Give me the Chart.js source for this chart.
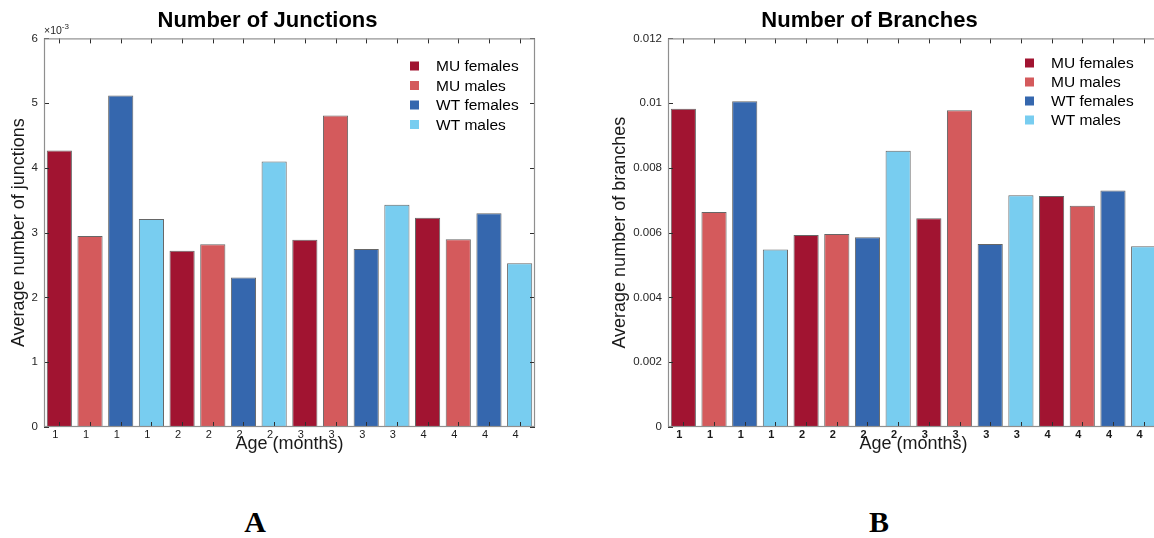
<!DOCTYPE html>
<html>
<head>
<meta charset="utf-8">
<script src="https://cdn.jsdelivr.net/npm/chart.js@4/dist/chart.umd.min.js"></script>
<style>
  html, body { margin: 0; padding: 0; background: #fff; width: 1154px; height: 538px; overflow: hidden; position: relative; }
  canvas { position: absolute; top: 0; }
  #c1 { left: 0; }
  #c2 { left: 580px; }
  .panel { position: absolute; top: 504px; font-family: "Liberation Serif", "Times New Roman", serif; font-weight: bold; font-size: 30px; color: #000; transform: translateX(-50%); line-height: 36px; }
</style>
</head>
<body>
<canvas id="c1" width="577" height="470"></canvas>
<canvas id="c2" width="590" height="470"></canvas>
<div class="panel" style="left:255px">A</div>
<div class="panel" style="left:879px">B</div>
<script>
// ---- data ----
const ageLabels = ['1','1','1','1','2','2','2','2','3','3','3','3','4','4','4','4'];
const groupNames = ['MU females', 'MU males', 'WT females', 'WT males'];
const groupColors = ['#A11431', '#D45A5C', '#3567AE', '#78CDF0'];
const barGroup = [0,1,2,3, 0,1,2,3, 0,1,2,3, 0,1,2,3];
const junctions = [0.00427, 0.00295, 0.00512, 0.00321, 0.00272, 0.00282, 0.00231, 0.00410,
                   0.00289, 0.00481, 0.00275, 0.00343, 0.00323, 0.00290, 0.00330, 0.00253];
const branches = [0.00983, 0.00664, 0.01006, 0.00548, 0.00593, 0.00596, 0.00586, 0.00853,
                  0.00645, 0.00978, 0.00565, 0.00716, 0.00713, 0.00683, 0.00730, 0.00558];
const junctionTicks = { min: 0, max: 0.006, step: 0.001 };
const branchTicks = { min: 0, max: 0.012, step: 0.002 };

const FONT = '"Liberation Sans", Arial, Helvetica, sans-serif';

const matlabPlugin = {
  id: 'matlabBox',
  afterDraw(chart, args, o) {
    const { ctx, chartArea: a, scales: { x, y } } = chart;
    ctx.save();
    // ticks (inward)
    ctx.strokeStyle = '#2e2e2e';
    ctx.lineWidth = 1;
    ctx.beginPath();
    x.ticks.forEach((t, i) => {
      const px = Math.round(x.getPixelForTick(i)) + 0.5;
      ctx.moveTo(px, a.bottom); ctx.lineTo(px, a.bottom - 5);
      ctx.moveTo(px, a.top); ctx.lineTo(px, a.top + 5);
    });
    y.ticks.forEach(t => {
      const py = Math.round(y.getPixelForValue(t.value)) + 0.5;
      ctx.moveTo(a.left, py); ctx.lineTo(a.left + 5, py);
      ctx.moveTo(a.right, py); ctx.lineTo(a.right - 5, py);
    });
    ctx.stroke();
    // box
    ctx.strokeStyle = '#8f8f8f';
    ctx.lineWidth = 1.2;
    ctx.strokeRect(a.left + 0.5, a.top + 0.5, a.width - 1, a.height - 1);
    // legend
    ctx.font = '15.5px ' + FONT;
    ctx.textBaseline = 'middle';
    ctx.textAlign = 'left';
    groupNames.forEach((name, i) => {
      const cy = o.legendY + i * o.legendGap;
      ctx.fillStyle = groupColors[i];
      ctx.fillRect(o.legendX, cy - 4.5, 9, 9);
      ctx.fillStyle = '#000';
      ctx.fillText(name, o.legendX + 26, cy + 1);
    });
    // exponent
    if (o.exponent) {
      ctx.fillStyle = '#262626';
      ctx.textBaseline = 'alphabetic';
      ctx.font = '10.5px ' + FONT;
      ctx.fillText('\u00d710', a.left, a.top - 4);
      const w = ctx.measureText('\u00d710').width;
      ctx.font = '8px ' + FONT;
      ctx.fillText('-3', a.left + w, a.top - 9);
    }
    ctx.restore();
  }
};

function makeChart(id, values, tickSpec, cfg) {
  const el = document.getElementById(id);
  return new Chart(el, {
    type: 'bar',
    data: {
      labels: ageLabels,
      datasets: [{
        data: values,
        backgroundColor: barGroup.map(g => groupColors[g]),
        borderColor: 'rgba(20,20,20,0.65)',
        borderWidth: 1,
        categoryPercentage: 1.0,
        barPercentage: 0.82
      }]
    },
    options: {
      responsive: false,
      animation: false,
      devicePixelRatio: 1,
      layout: { padding: { left: 0, right: cfg.padRight, top: 0, bottom: 0 } },
      plugins: {
        legend: { display: false },
        tooltip: { enabled: false },
        title: {
          display: true,
          text: cfg.title,
          color: '#000',
          font: { family: FONT, size: 22, weight: 'bold', lineHeight: 1.2 },
          padding: { top: 8, bottom: 4 }
        },
        matlabBox: { legendX: cfg.legendX, legendY: cfg.legendY, legendGap: cfg.legendGap, exponent: cfg.exponent }
      },
      scales: {
        x: {
          grid: { display: false, drawTicks: false },
          border: { display: false },
          ticks: {
            color: '#1a1a1a',
            font: { family: FONT, size: 11, weight: cfg.xBold ? 'bold' : 'normal' },
            padding: 1,
            labelOffset: -4,
            maxRotation: 0,
            autoSkip: false
          },
          title: {
            display: true,
            text: 'Age (months)',
            color: '#1a1a1a',
            font: { family: FONT, size: 18 },
            padding: { top: 0, bottom: 15 }
          },
          afterFit(s) { s.height = 43; }
        },
        y: {
          min: tickSpec.min,
          max: tickSpec.max,
          grid: { display: false, drawTicks: false },
          border: { display: false },
          ticks: {
            stepSize: tickSpec.step,
            color: '#262626',
            font: { family: FONT, size: 11.5 },
            padding: 6,
            callback: cfg.tickFmt
          },
          title: {
            display: true,
            text: cfg.yTitle,
            color: '#1a1a1a',
            font: { family: FONT, size: 18 },
            padding: { top: cfg.yTitlePad, bottom: 0 }
          },
          afterFit(s) { s.width = cfg.yWidth; }
        }
      }
    },
    plugins: [matlabPlugin]
  });
}

makeChart('c1', junctions, junctionTicks, {
  title: 'Number of Junctions',
  yTitle: 'Average number of junctions',
  padRight: 42, yWidth: 44, yTitlePad: 8.5,
  legendX: 410, legendY: 66, legendGap: 19.5,
  exponent: true, xBold: false,
  tickFmt: v => String(Math.round(v * 1000))
});

makeChart('c2', branches, branchTicks, {
  title: 'Number of Branches',
  yTitle: 'Average number of branches',
  padRight: 11, yWidth: 88, yTitlePad: 29,
  legendX: 445, legendY: 63, legendGap: 19,
  exponent: false, xBold: true,
  tickFmt: v => (v === 0 ? '0' : String(parseFloat(v.toFixed(3))))
});
</script>
</body>
</html>
